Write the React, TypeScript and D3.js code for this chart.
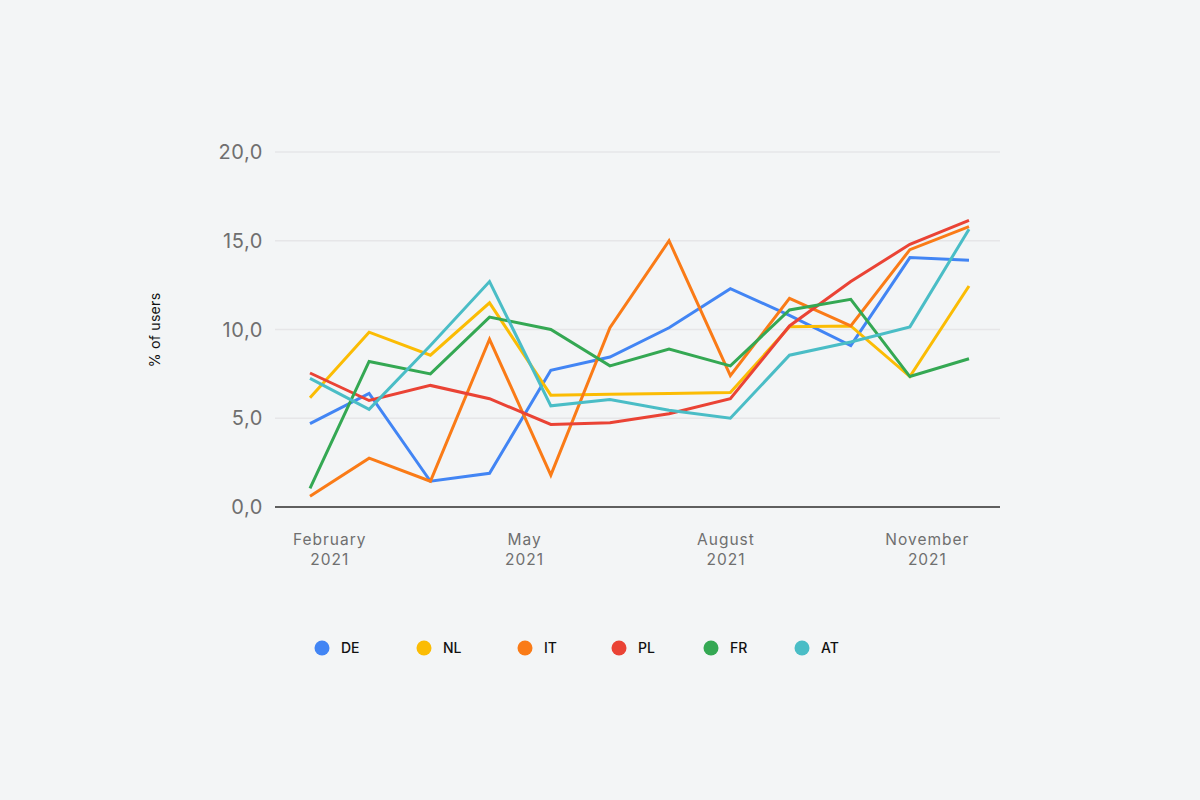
import React from "react";
import * as d3 from "d3";

const dates = [
  "2021-01-23", "2021-02-19", "2021-03-19", "2021-04-15", "2021-05-13", "2021-06-09",
  "2021-07-06", "2021-08-03", "2021-08-30", "2021-09-27", "2021-10-24", "2021-11-20",
];
const seriesNames = ["DE", "NL", "IT", "PL", "FR", "AT"];
const seriesColors = ["#4285F4", "#FBBC04", "#FA7B17", "#EA4335", "#34A853", "#4ABDC6"];
const DE = [4.7, 6.4, 1.45, 1.9, 7.7, 8.45, 10.1, 12.3, 10.8, 9.1, 14.05, 13.9];
const NL = [6.15, 9.85, 8.55, 11.5, 6.3, 6.35, 6.4, 6.45, 10.15, 10.2, 7.35, 12.45];
const IT = [0.6, 2.75, 1.45, 9.45, 1.8, 10.1, 15.0, 7.4, 11.75, 10.2, 14.5, 15.8];
const PL = [7.55, 6.0, 6.85, 6.1, 4.65, 4.75, 5.25, 6.1, 10.2, 12.7, 14.8, 16.15];
const FR = [1.05, 8.2, 7.5, 10.7, 10.0, 7.95, 8.9, 7.95, 11.1, 11.7, 7.35, 8.35];
const AT = [7.25, 5.5, 9.1, 12.7, 5.7, 6.05, 5.45, 5.0, 8.55, 9.3, 10.15, 15.65];
const seriesValues = [DE, NL, IT, PL, FR, AT];
const yTicks = [0, 5, 10, 15, 20];
const xTicks = ["2021-02-01", "2021-05-01", "2021-08-01", "2021-11-01"];
const xTickLabels = [["February", "2021"], ["May", "2021"], ["August", "2021"], ["November", "2021"]];
const yTitle = "% of users";

const FONT = "Inter, 'Open Sans', sans-serif";

export default function App() {
  const W = 1200, H = 800;
  const parse = d3.timeParse("%Y-%m-%d");
  const xDates = dates.map((d) => parse(d) as Date);
  const x = d3.scaleTime().domain([xDates[0], xDates[xDates.length - 1]]).range([310, 969]);
  const y = d3.scaleLinear().domain([0, 20]).range([507, 152]);
  const line = d3.line<number>().x((_, i) => x(xDates[i])).y((v) => y(v));
  const fmt = (v: number) => d3.format(".1f")(v).replace(".", ",");
  const legendX = [322, 424, 525, 619, 711, 802];

  return (
    <svg width={W} height={H} style={{ position: "absolute", left: 0, top: 0, display: "block" }}>
      <rect width={W} height={H} fill="#f3f5f6" />
      {yTicks.map((t) => (
        <g key={t}>
          {t !== 0 && <line x1={275} x2={1000} y1={y(t)} y2={y(t)} stroke="#e6e6e8" strokeWidth={1.5} />}
          <text x={263} y={y(t)} dy="0.35em" textAnchor="end" fontFamily={FONT} fontSize={20} letterSpacing={0.6} fill="#6f6f6f">
            {fmt(t)}
          </text>
        </g>
      ))}
      <text transform={`translate(160,330) rotate(-90)`} textAnchor="middle" fontFamily={FONT} fontSize={14} letterSpacing={0.3} fill="#111">
        {yTitle}
      </text>
      {xTicks.map((t, i) => {
        const px = x(parse(t) as Date);
        return (
          <text key={t} x={px} y={545} textAnchor="middle" fontFamily={FONT} fontSize={15.5} letterSpacing={1} fill="#6f6f6f">
            <tspan x={px} dy={0}>{xTickLabels[i][0]}</tspan>
            <tspan x={px} dy={20}>{xTickLabels[i][1]}</tspan>
          </text>
        );
      })}
      {seriesValues.map((vals, i) => (
        <path key={seriesNames[i]} d={line(vals) || ""} fill="none" stroke={seriesColors[i]} strokeWidth={3} strokeLinejoin="miter" />
      ))}
      <line x1={275} x2={1000} y1={y(0)} y2={y(0)} stroke="#5f5f5f" strokeWidth={2} />
      {seriesNames.map((n, i) => (
        <g key={n}>
          <circle cx={legendX[i]} cy={648} r={7.5} fill={seriesColors[i]} />
          <text x={legendX[i] + 19} y={648} dy="0.35em" fontFamily={FONT} fontSize={14} fontWeight={500} fill="#111">
            {n}
          </text>
        </g>
      ))}
    </svg>
  );
}
